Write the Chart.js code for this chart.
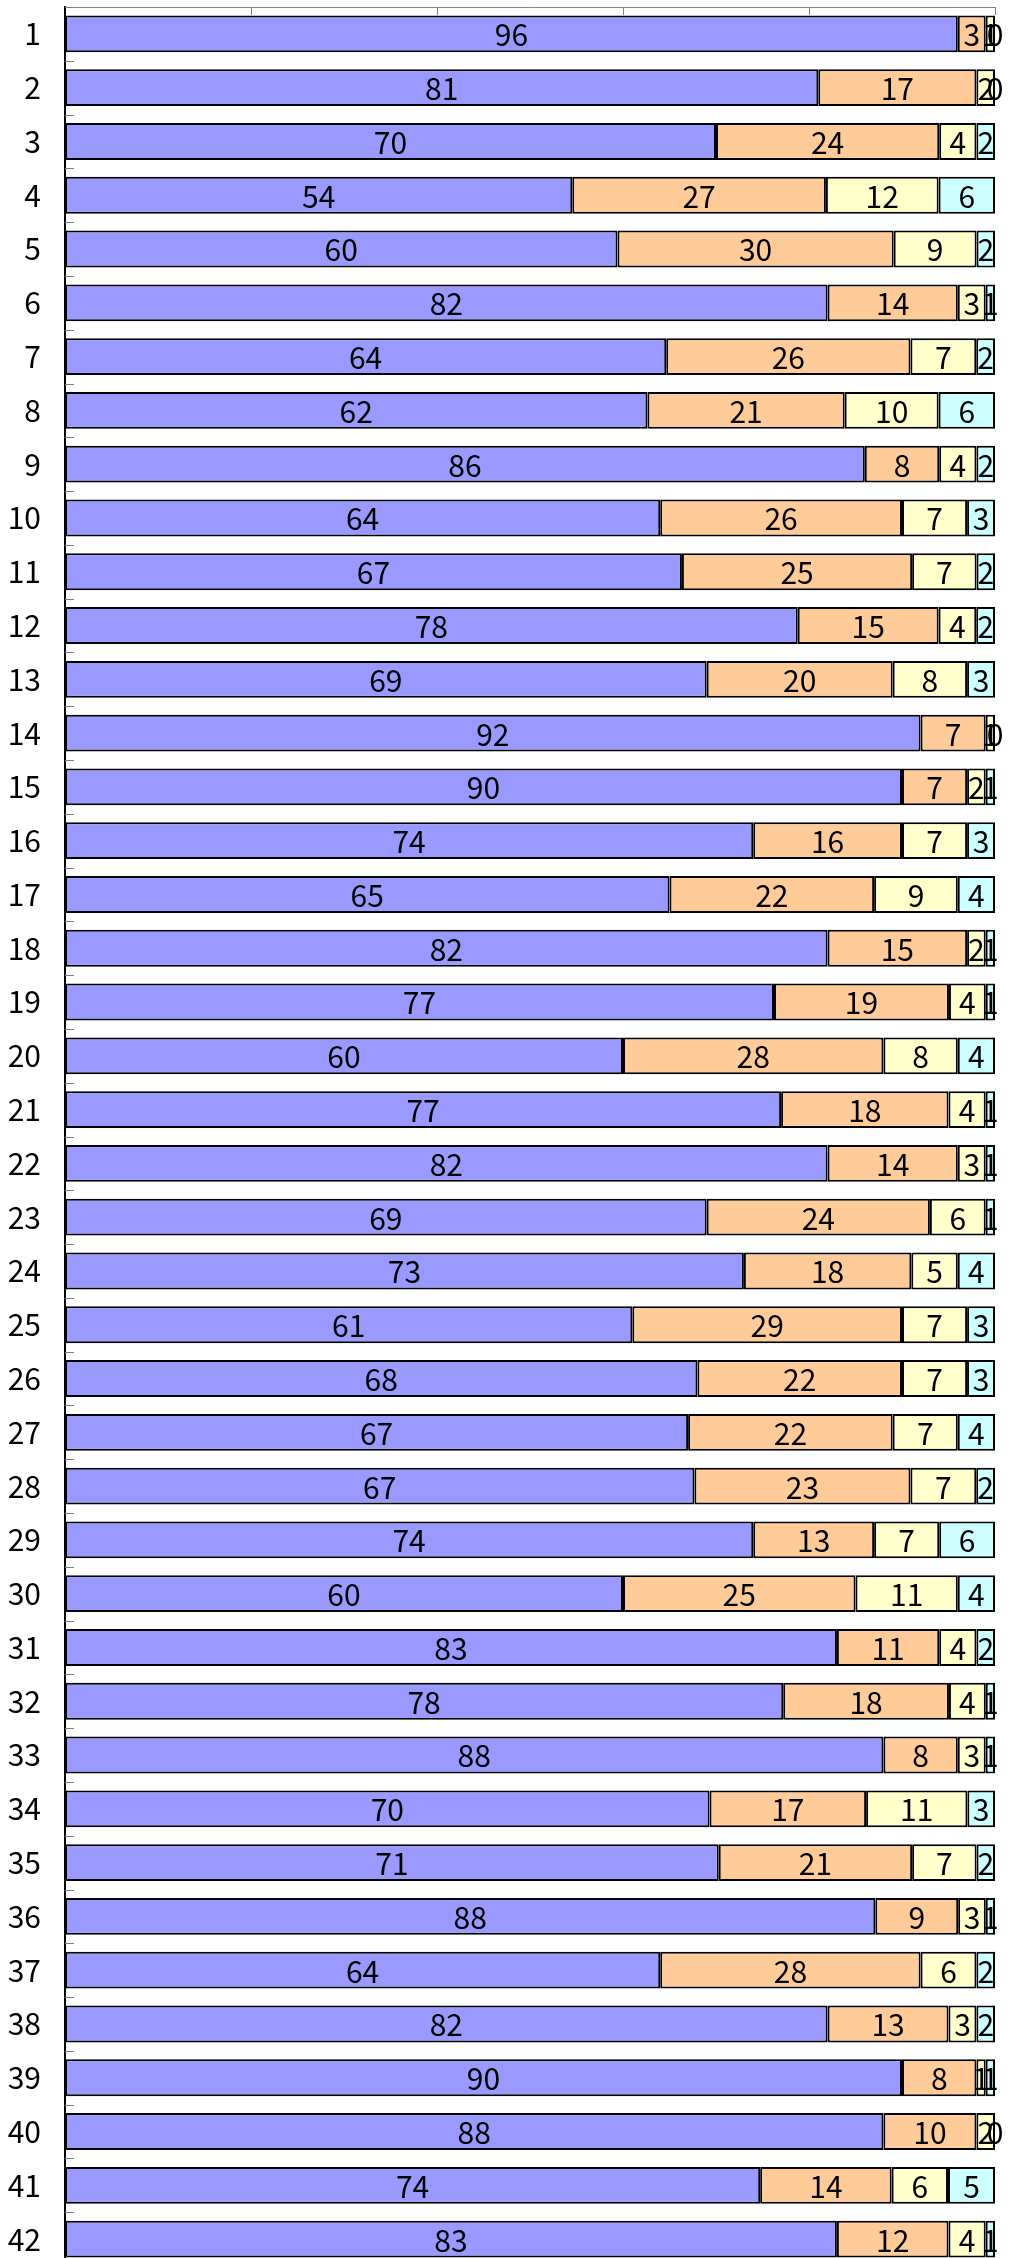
<!DOCTYPE html>
<html>
<head>
<meta charset="utf-8">
<script src="https://cdn.jsdelivr.net/npm/chart.js@4"></script>
<style>
  html, body { margin: 0; padding: 0; overflow: hidden; background: #fff; }
  #wrap { width: 1013px; height: 2266px; }
</style>
</head>
<body>
<div id="wrap"><canvas id="chart" width="1013" height="2266"></canvas></div>
<script>
/* =====================================
   DATA
======================================== */

const rowLabels = [];
for (let i = 1; i <= 42; i++) rowLabels.push(String(i));

const blueValues = [96, 81, 70, 54, 60, 82, 64, 62, 86, 64, 67, 78, 69, 92, 90, 74, 65, 82, 77, 60, 77,
                    82, 69, 73, 61, 68, 67, 67, 74, 60, 83, 78, 88, 70, 71, 88, 64, 82, 90, 88, 74, 83];
const orangeValues = [3, 17, 24, 27, 30, 14, 26, 21, 8, 26, 25, 15, 20, 7, 7, 16, 22, 15, 19, 28, 18,
                      14, 24, 18, 29, 22, 22, 23, 13, 25, 11, 18, 8, 17, 21, 9, 28, 13, 8, 10, 14, 12];
const yellowValues = [1, 2, 4, 12, 9, 3, 7, 10, 4, 7, 7, 4, 8, 1, 2, 7, 9, 2, 4, 8, 4,
                      3, 6, 5, 7, 7, 7, 7, 7, 11, 4, 4, 3, 11, 7, 3, 6, 3, 1, 2, 6, 4];
const cyanValues = [0, 0, 2, 6, 2, 1, 2, 6, 2, 3, 2, 2, 3, 0, 1, 3, 4, 1, 1, 4, 1,
                    1, 1, 4, 3, 3, 4, 2, 6, 4, 2, 1, 1, 3, 2, 1, 2, 2, 1, 0, 5, 1];

const xTicks = [0, 20, 40, 60, 80, 100];

/* =====================================
   CHART
======================================== */

const seriesList = [blueValues, orangeValues, yellowValues, cyanValues];
const seriesColors = ['#9999FF', '#FFCC99', '#FFFFCC', '#CCFFFF'];

// each row is drawn as share of its own total (100% stacked)
const rowTotals = rowLabels.map((_, i) => seriesList.reduce((s, arr) => s + arr[i], 0));

const datasets = seriesList.map((values, k) => ({
    data: values.map((v, i) => v / rowTotals[i] * 100),
    raw: values,
    backgroundColor: seriesColors[k],
    borderColor: '#000000',
    borderWidth: 2,
    borderSkipped: false,
    barPercentage: 0.685,
    categoryPercentage: 1
}));

const fontFamily = '"Liberation Sans Narrow", "Noto Sans CJK JP", sans-serif';

// value labels in the middle of each segment
const segmentLabels = {
    id: 'segmentLabels',
    afterDatasetsDraw(chart) {
        const ctx = chart.ctx;
        ctx.save();
        ctx.font = '30px ' + fontFamily;
        ctx.fillStyle = '#000';
        ctx.textAlign = 'center';
        ctx.textBaseline = 'middle';
        chart.data.datasets.forEach((ds, k) => {
            chart.getDatasetMeta(k).data.forEach((bar, i) => {
                const cx = (bar.x + bar.base) / 2;
                ctx.fillText(String(ds.raw[i]), cx, bar.y + 1);
            });
        });
        ctx.restore();
    }
};

// small inner tick marks on both axes
const innerTicks = {
    id: 'innerTicks',
    afterDraw(chart) {
        const ctx = chart.ctx;
        const x = chart.scales.x;
        const y = chart.scales.y;
        const area = chart.chartArea;
        ctx.save();
        ctx.strokeStyle = '#808080';
        ctx.lineWidth = 1;
        ctx.beginPath();
        xTicks.forEach(t => {
            if (t === 0) return;
            const px = Math.round(x.getPixelForValue(t)) + 0.5;
            ctx.moveTo(px, area.top);
            ctx.lineTo(px, area.top + 8);
        });
        for (let i = 0; i <= rowLabels.length; i++) {
            const py = Math.round(y.getPixelForValue(i - 0.5)) + 0.5;
            ctx.moveTo(area.left, py);
            ctx.lineTo(area.left + 9, py);
        }
        ctx.stroke();
        ctx.restore();
    }
};

const chartCanvas = document.getElementById('chart');

let mainChart = new Chart(chartCanvas, {
    type: 'bar',
    data: {
        labels: rowLabels,
        datasets: datasets
    },
    options: {
        indexAxis: 'y',
        responsive: false,
        animation: false,
        layout: {
            padding: { left: 0, right: 18, top: 0, bottom: 0 }
        },
        scales: {
            x: {
                position: 'top',
                stacked: true,
                min: 0,
                max: 100,
                afterBuildTicks: scale => {
                    scale.ticks = xTicks.map(v => ({ value: v }));
                },
                afterFit: scale => {
                    scale.height = 7;
                    scale.paddingLeft = 0;
                    scale.paddingRight = 0;
                },
                grid: { display: false, drawTicks: false },
                border: { display: true, color: '#808080', width: 1 },
                ticks: { display: false }
            },
            y: {
                stacked: true,
                afterFit: scale => {
                    scale.width = 65;
                    scale.paddingTop = 0;
                    scale.paddingBottom = 0;
                },
                grid: { display: false, drawTicks: false },
                border: { display: true, color: '#000000', width: 2 },
                ticks: {
                    padding: 24,
                    color: '#000',
                    font: { family: fontFamily, size: 30 }
                }
            }
        },
        plugins: {
            legend: { display: false },
            tooltip: { enabled: false }
        }
    },
    plugins: [segmentLabels, innerTicks]
});
</script>
</body>
</html>
